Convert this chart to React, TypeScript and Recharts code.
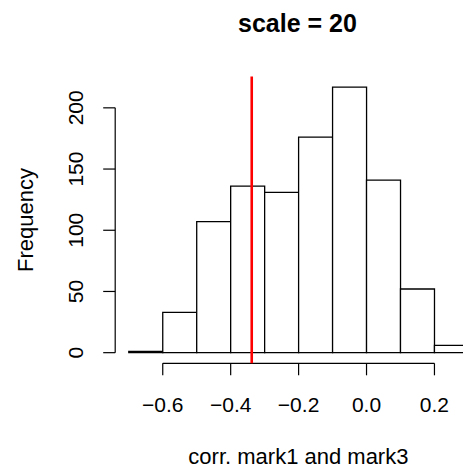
import { BarChart, Bar, XAxis, YAxis, ReferenceLine } from 'recharts';

// histogram bins (left edges) and counts
const binStarts = [-0.7, -0.6, -0.5, -0.4, -0.3, -0.2, -0.1, 0.0, 0.1, 0.2];
const counts = [1, 33, 107, 136, 131, 176, 217, 141, 52, 6];
const binWidth = 0.1;
const xTicks = [-0.6, -0.4, -0.2, 0.0, 0.2];
const yTicks = [0, 50, 100, 150, 200];
const markerValue = -0.338;

const title = 'scale = 20';
const xTitle = 'corr. mark1 and mark3';
const yTitle = 'Frequency';

const FONT = '"Liberation Sans", Arial, Helvetica, sans-serif';

// R-style axis limits: data range extended by 4%
const xMin = -0.74;
const xMax = 0.34;
const yMin = -8.68;
const yMax = 225.68;

const chartData = binStarts.map((start, i) => ({
  mid: +(start + binWidth / 2).toFixed(2),
  count: counts[i],
}));

const fmt = (v: number) => v.toFixed(1).replace('-', '\u2212');

function XTick(props: any) {
  const { x, y, payload } = props;
  return (
    <text x={x} y={y + 36.4} textAnchor="middle" fontSize={21} fontFamily={FONT} fill="#000">
      {fmt(payload.value)}
    </text>
  );
}

function YTick(props: any) {
  const { x, y, payload } = props;
  const tx = x - 20.5;
  return (
    <text
      x={tx}
      y={y}
      transform={`rotate(-90 ${tx} ${y})`}
      textAnchor="middle"
      fontSize={21}
      fontFamily={FONT}
      fill="#000"
    >
      {payload.value}
    </text>
  );
}

export default function App() {
  return (
    <div
      style={{
        position: 'absolute',
        left: 0,
        top: 0,
        width: 463,
        height: 468,
        overflow: 'hidden',
        background: '#fff',
      }}
    >
      <BarChart
        width={482}
        height={468}
        data={chartData}
        margin={{ top: 76.4, right: 0, bottom: 0, left: 0 }}
        barCategoryGap={0}
        barGap={0}
      >
        <XAxis
          dataKey="mid"
          type="number"
          domain={[xMin, xMax]}
          ticks={xTicks}
          allowDataOverflow
          height={104.7}
          tickSize={12}
          tickMargin={0}
          axisLine={false}
          tickLine={{ stroke: '#000', strokeWidth: 1.2 }}
          tick={<XTick />}
        />
        <YAxis
          type="number"
          domain={[yMin, yMax]}
          ticks={yTicks}
          allowDataOverflow
          width={115.2}
          tickSize={12}
          tickMargin={0}
          axisLine={false}
          tickLine={{ stroke: '#000', strokeWidth: 1.2 }}
          tick={<YTick />}
        />
        <Bar
          dataKey="count"
          fill="#fff"
          stroke="#000"
          strokeWidth={1.3}
          isAnimationActive={false}
        />
        {/* axis lines only span the tick range, like base R */}
        <ReferenceLine
          segment={[
            { x: xTicks[0], y: yMin },
            { x: xTicks[xTicks.length - 1], y: yMin },
          ]}
          stroke="#000"
          strokeWidth={1.2}
          ifOverflow="visible"
        />
        <ReferenceLine
          segment={[
            { x: xMin, y: yTicks[0] },
            { x: xMin, y: yTicks[yTicks.length - 1] },
          ]}
          stroke="#000"
          strokeWidth={1.2}
          ifOverflow="visible"
        />
        <ReferenceLine
          x={markerValue}
          stroke="#ff0000"
          strokeWidth={2.6}
          ifOverflow="visible"
        />
        <text x={297.5} y={32.3} textAnchor="middle" fontSize={25} fontWeight="bold" fontFamily={FONT} fill="#000">
          {title}
        </text>
        <text x={298.4} y={464} textAnchor="middle" fontSize={22} fontFamily={FONT} fill="#000">
          {xTitle}
        </text>
        <text
          x={33}
          y={220}
          transform="rotate(-90 33 220)"
          textAnchor="middle"
          fontSize={22}
          fontFamily={FONT}
          fill="#000"
        >
          {yTitle}
        </text>
      </BarChart>
    </div>
  );
}
